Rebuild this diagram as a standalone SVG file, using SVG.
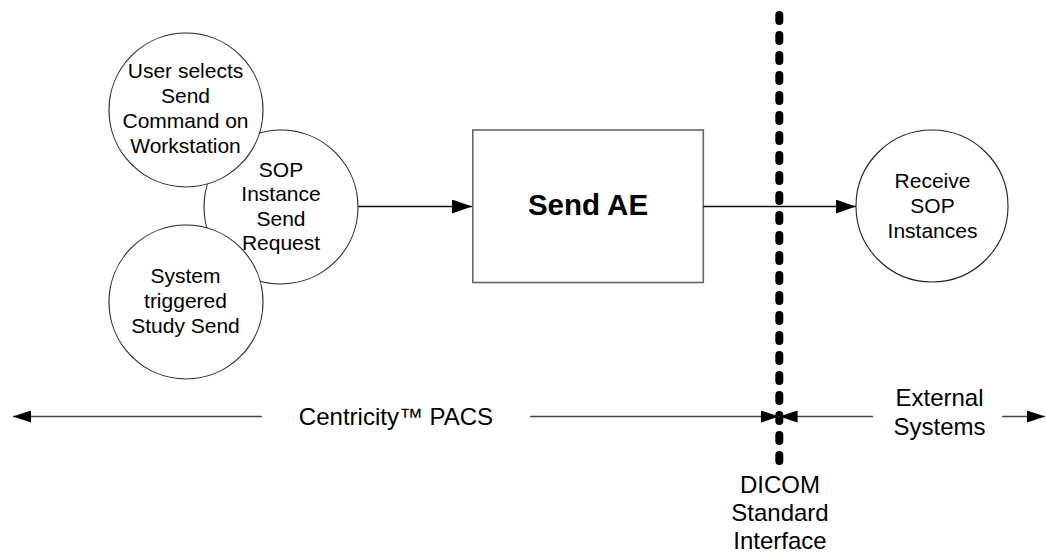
<svg xmlns="http://www.w3.org/2000/svg" width="1046" height="559" viewBox="0 0 1046 559">
<style>
text{font-family:"Liberation Sans",Arial,sans-serif;fill:#000;text-anchor:middle}
.t21{font-size:21px}
.t24{font-size:24px}
.bold{font-size:29.5px;font-weight:bold}
.node{fill:#fff;stroke:#222;stroke-width:1.1}
.box{fill:#fff;stroke:#666;stroke-width:1.6}
.conn{fill:none;stroke:#111;stroke-width:1.4}
.span{fill:none;stroke:#444;stroke-width:1.4}
.dicom{fill:none;stroke:#000;stroke-width:8;stroke-linecap:round;stroke-dasharray:6 14}
</style>
<defs>
<marker id="ah" markerUnits="userSpaceOnUse" markerWidth="20" markerHeight="14" refX="20" refY="7" orient="auto-start-reverse">
<path d="M0,0 L20,7 L0,14 Z" fill="#000"/>
</marker>
<marker id="ahs" markerUnits="userSpaceOnUse" markerWidth="18" markerHeight="12" refX="18" refY="6" orient="auto-start-reverse">
<path d="M0,0 L18,6 L0,12 Z" fill="#000"/>
</marker>
</defs>

<g id="sop-request">
<circle class="node" cx="281" cy="207" r="77"/>
</g>
<g id="user-selects">
<circle class="node" cx="186" cy="110" r="77"/>
<text class="t21" x="185.5" y="78">User selects</text>
<text class="t21" x="185.5" y="103">Send</text>
<text class="t21" x="185.5" y="128">Command on</text>
<text class="t21" x="185.5" y="153">Workstation</text>
</g>
<g id="system-triggered">
<circle class="node" cx="186" cy="302" r="77"/>
<text class="t21" x="185.5" y="283">System</text>
<text class="t21" x="185.5" y="308">triggered</text>
<text class="t21" x="185.5" y="333">Study Send</text>
</g>
<g id="sop-request-label">
<text class="t21" x="281" y="176.5">SOP</text>
<text class="t21" x="281" y="201">Instance</text>
<text class="t21" x="281" y="225.5">Send</text>
<text class="t21" x="281" y="250">Request</text>
</g>

<g id="send-ae">
<rect class="box" x="472.8" y="130" width="230.5" height="152.5"/>
<text class="bold" x="588" y="215">Send AE</text>
</g>

<g id="receive">
<circle class="node" cx="932" cy="206" r="76"/>
<text class="t21" x="932.5" y="188">Receive</text>
<text class="t21" x="932.5" y="213">SOP</text>
<text class="t21" x="932.5" y="237.5">Instances</text>
</g>

<g id="connectors">
<line class="conn" x1="358.3" y1="206.5" x2="472" y2="206.5" marker-end="url(#ah)"/>
<line class="conn" x1="703.3" y1="206.5" x2="855.7" y2="206.5" marker-end="url(#ah)"/>
</g>

<g id="dicom-interface">
<path class="dicom" d="M779.3,15 L779.3,461"/>
<text class="t24" x="780" y="493">DICOM</text>
<text class="t24" x="780" y="521">Standard</text>
<text class="t24" x="780" y="549">Interface</text>
</g>

<g id="spans">
<line class="span" x1="262" y1="416.5" x2="13" y2="416.5" marker-end="url(#ahs)"/>
<line class="span" x1="530" y1="416.5" x2="779" y2="416.5" marker-end="url(#ahs)"/>
<line class="span" x1="873" y1="416.5" x2="779.6" y2="416.5" marker-end="url(#ahs)"/>
<line class="span" x1="1002" y1="416.5" x2="1045" y2="416.5" marker-end="url(#ahs)"/>
<text class="t24" x="396" y="425">Centricity™ PACS</text>
<text class="t24" x="939.5" y="406">External</text>
<text class="t24" x="939.5" y="434.5">Systems</text>
</g>
</svg>
